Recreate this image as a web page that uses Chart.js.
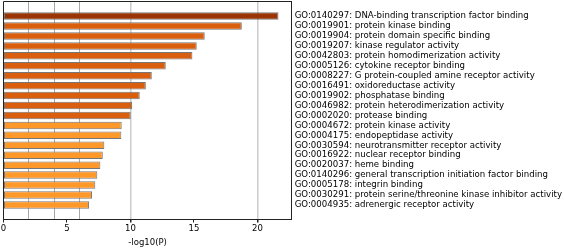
<!DOCTYPE html>
<html>
<head>
    <title>GO enrichment</title>
    <script src="https://cdn.jsdelivr.net/npm/chart.js"></script>
    <style>
        body { margin: 0; padding: 0; background: #ffffff; overflow: hidden; }
        #wrap { position: relative; width: 564px; height: 248px; }
    </style>
</head>
<body>
    <div id="wrap"><canvas id="myChart"></canvas></div>

    <script>
        // GO terms, top to bottom
        const terms = [
            'GO:0140297: DNA-binding transcription factor binding',
            'GO:0019901: protein kinase binding',
            'GO:0019904: protein domain specific binding',
            'GO:0019207: kinase regulator activity',
            'GO:0042803: protein homodimerization activity',
            'GO:0005126: cytokine receptor binding',
            'GO:0008227: G protein-coupled amine receptor activity',
            'GO:0016491: oxidoreductase activity',
            'GO:0019902: phosphatase binding',
            'GO:0046982: protein heterodimerization activity',
            'GO:0002020: protease binding',
            'GO:0004672: protein kinase activity',
            'GO:0004175: endopeptidase activity',
            'GO:0030594: neurotransmitter receptor activity',
            'GO:0016922: nuclear receptor binding',
            'GO:0020037: heme binding',
            'GO:0140296: general transcription initiation factor binding',
            'GO:0005178: integrin binding',
            'GO:0030291: protein serine/threonine kinase inhibitor activity',
            'GO:0004935: adrenergic receptor activity'
        ];
        // -log10(P)
        const logP = [21.66, 18.77, 15.85, 15.22, 14.88, 12.78, 11.68, 11.21, 10.73, 10.13,
                      10.02, 9.31, 9.28, 7.94, 7.82, 7.63, 7.39, 7.23, 6.97, 6.74];
        const xTicks = [0, 5, 10, 15, 20];
        const refLines = [2, 4, 6];
        const lightLines = [10, 20];

        const barColors = logP.map((v, i) => i === 0 ? '#993404' : (i <= 10 ? '#d95f0e' : '#fe9929'));

        const FONT = "'DejaVu Sans', sans-serif";

        const spines = {
            id: 'spines',
            afterDraw(chart) {
                const { ctx, chartArea: a } = chart;
                ctx.save();
                ctx.strokeStyle = '#222';
                ctx.lineWidth = 1;
                ctx.beginPath();
                ctx.moveTo(a.left, a.bottom);
                ctx.lineTo(a.left, a.top);
                ctx.lineTo(a.right, a.top);
                ctx.stroke();
                ctx.restore();
            }
        };

        new Chart(document.getElementById('myChart'), {
            type: 'bar',
            data: {
                datasets: [{
                    data: logP.map((v, i) => ({ x: v, y: i })),
                    backgroundColor: barColors,
                    borderColor: '#777777',
                    borderWidth: 1,
                    borderSkipped: false,
                    barPercentage: 0.76,
                    categoryPercentage: 1
                }]
            },
            plugins: [spines],
            options: {
                indexAxis: 'y',
                responsive: true,
                maintainAspectRatio: false,
                animation: false,
                layout: { padding: { left: 3.5, top: 1.5, right: 0, bottom: 0 } },
                plugins: {
                    legend: { display: false },
                    tooltip: { enabled: false }
                },
                scales: {
                    x: {
                        type: 'linear',
                        min: 0,
                        max: 22.7,
                        afterBuildTicks: s => {
                            s.ticks = [...xTicks, ...refLines].sort((a, b) => a - b).map(v => ({ value: v }));
                        },
                        afterFit: s => { s.height = 28.5; s.paddingLeft = 0; s.paddingRight = 0; },
                        ticks: {
                            autoSkip: false,
                            maxRotation: 0,
                            padding: 1.5,
                            color: '#000',
                            font: { family: FONT, size: 8.5 },
                            callback: v => xTicks.includes(v) ? String(v) : ''
                        },
                        grid: {
                            color: c => refLines.includes(c.tick.value) ? '#a8a8a8'
                                : (lightLines.includes(c.tick.value) ? '#cccccc' : 'rgba(0,0,0,0)'),
                            lineWidth: c => lightLines.includes(c.tick.value) ? 1.5 : 1,
                            tickColor: c => xTicks.includes(c.tick.value) ? '#222' : 'rgba(0,0,0,0)',
                            tickLength: 3,
                            drawOnChartArea: true
                        },
                        border: { color: '#222', width: 1 },
                        title: {
                            display: true,
                            text: '-log10(P)',
                            color: '#000',
                            padding: { top: -1.5, bottom: 0 },
                            font: { family: FONT, size: 8.5 }
                        }
                    },
                    y: {
                        type: 'linear',
                        position: 'right',
                        reverse: true,
                        min: -0.92,
                        max: 19.92,
                        afterBuildTicks: s => {
                            s.ticks = terms.map((t, i) => ({ value: i }));
                        },
                        afterFit: s => { s.width = 272.3; s.paddingTop = 0; s.paddingBottom = 0; },
                        ticks: {
                            autoSkip: false,
                            padding: 3,
                            color: '#000',
                            font: { family: FONT, size: 8.6 },
                            callback: v => terms[v] || ''
                        },
                        grid: { display: false, drawTicks: false },
                        border: { color: '#222', width: 1 }
                    }
                }
            }
        });
    </script>
</body>
</html>
